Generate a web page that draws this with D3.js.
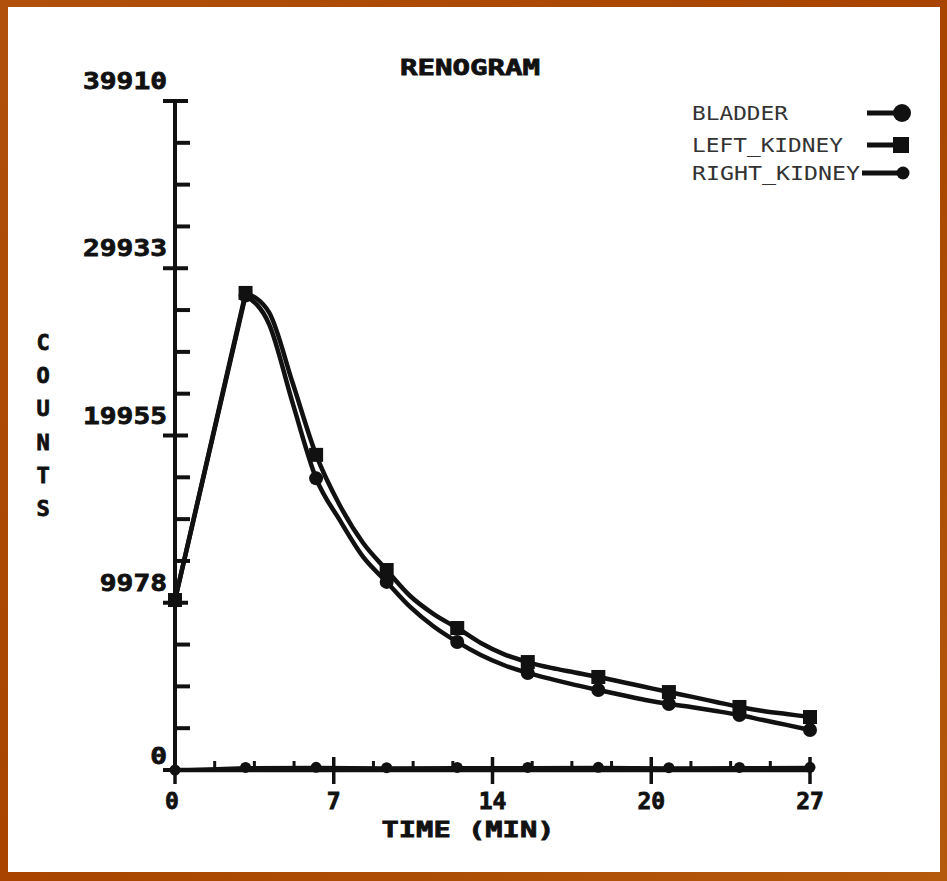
<!DOCTYPE html>
<html><head><meta charset="utf-8">
<script src="https://cdn.jsdelivr.net/npm/d3@7"></script>
<style>html,body{margin:0;padding:0;background:#a84600;}svg{display:block;}</style>
</head><body>
<svg id="chart" width="947" height="881"></svg>
<script>
// ---- data ----
const title = "RENOGRAM";
const xLabel = "TIME (MIN)";
const yLabel = "COUNTS";
const seriesNames = ["BLADDER", "LEFT_KIDNEY", "RIGHT_KIDNEY"];
const xTickValues = [0, 6.75, 13.5, 20.25, 27];
const xTickLabels = ["0", "7", "14", "20", "27"];
const yTickValues = [0, 9977.5, 19955, 29932.5, 39910];
const yTickLabels = ["0", "9978", "19955", "29933", "39910"];
const time = [0,3,4,5,6,7,8,9,10,11,12,13,14,15,16,17,18,19,20,21,22,23,24,25,26,27];
const leftKidney  = [10140,28460,27300,23100,18800,15810,13540,11930,10380,9300,8470,7580,6900,6440,6090,5820,5550,5250,4950,4650,4360,4060,3760,3520,3340,3160];
const rightKidney = [10140,28300,26600,21900,17400,14920,12710,11220,9730,8560,7640,6860,6250,5790,5420,5080,4770,4470,4180,3940,3740,3520,3280,2980,2690,2390];
const bladderTime = [0,3,6,9,12,15,18,21,24,27];
const bladder = [0,150,160,140,150,150,160,140,150,160];

// ---- drawing ----
const svg = d3.select("#chart");
const defs = svg.append("defs");
const g0 = defs.append("linearGradient").attr("id","bg").attr("x1","0").attr("y1","0").attr("x2","1").attr("y2","1");
g0.append("stop").attr("offset","0").attr("stop-color","#b0500a");
g0.append("stop").attr("offset","0.5").attr("stop-color","#a84400");
g0.append("stop").attr("offset","1").attr("stop-color","#b45a0c");
svg.append("rect").attr("width",947).attr("height",881).attr("fill","url(#bg)");
svg.append("rect").attr("x",8).attr("y",7).attr("width",932).attr("height",865).attr("fill","#fff");

const x = d3.scaleLinear().domain([0,27]).range([175,810]);
const y = d3.scaleLinear().domain([0,39910]).range([770,101]);
const ink = "#111";
const mono = "'DejaVu Sans Mono', 'Liberation Mono', monospace";

// minor ticks
const xMinor = [], yMinor = [];
for (let i=0;i<4;i++) for (let k=1;k<4;k++) {
  xMinor.push(xTickValues[i] + (xTickValues[i+1]-xTickValues[i])*k/4);
  yMinor.push(yTickValues[i] + (yTickValues[i+1]-yTickValues[i])*k/4);
}
const ax = svg.append("g").attr("stroke",ink).attr("stroke-linecap","butt");
ax.append("line").attr("x1",x(0)).attr("x2",x(0)).attr("y1",y(39910)-1).attr("y2",y(0)+3).attr("stroke-width",4);
ax.append("line").attr("x1",x(0)-2).attr("x2",x(27)+2).attr("y1",y(0)).attr("y2",y(0)).attr("stroke-width",4.5);
ax.selectAll(".ymaj").data(yTickValues).join("line")
  .attr("x1",x(0)-12).attr("x2",x(0)+13).attr("y1",d=>y(d)).attr("y2",d=>y(d)).attr("stroke-width",4);
ax.selectAll(".ymin").data(yMinor).join("line")
  .attr("x1",x(0)).attr("x2",x(0)+15).attr("y1",d=>y(d)).attr("y2",d=>y(d)).attr("stroke-width",4);
ax.selectAll(".xmaj").data(xTickValues).join("line")
  .attr("x1",d=>x(d)).attr("x2",d=>x(d)).attr("y1",y(0)-13).attr("y2",y(0)+14).attr("stroke-width",3.5);
ax.selectAll(".xmin").data(xMinor).join("line")
  .attr("x1",d=>x(d)).attr("x2",d=>x(d)).attr("y1",y(0)-9).attr("y2",y(0)).attr("stroke-width",3);

// tick labels
const lab = svg.append("g").attr("font-family",mono).attr("font-weight","bold").attr("fill",ink)
  .attr("stroke",ink).attr("stroke-width",0.8);
lab.selectAll(".yl").data(yTickValues).join("text")
  .attr("x",167).attr("y",(d,i)=> i===0 ? y(d)-6 : y(d)-12)
  .attr("text-anchor","end").attr("font-size",23)
  .attr("textLength",(d,i)=>yTickLabels[i].length*16.8).attr("lengthAdjust","spacingAndGlyphs")
  .text((d,i)=>yTickLabels[i]);
lab.selectAll(".xl").data(xTickValues).join("text")
  .attr("x",d=>x(d)-(d===0?3:0)).attr("y",y(0)+39)
  .attr("text-anchor","middle").attr("font-size",23)
  .text((d,i)=>xTickLabels[i]);

// title & axis labels
lab.append("text").attr("x",470).attr("y",75).attr("text-anchor","middle").attr("font-size",22)
  .attr("textLength",140).attr("lengthAdjust","spacingAndGlyphs").text(title);
lab.append("text").attr("x",468).attr("y",837).attr("text-anchor","middle").attr("font-size",22)
  .attr("textLength",173).attr("lengthAdjust","spacingAndGlyphs").text(xLabel);
lab.selectAll(".yc").data(yLabel.split("")).join("text")
  .attr("x",43).attr("y",(d,i)=>350+i*33.2).attr("text-anchor","middle").attr("font-size",22).text(d=>d);

// series lines: straight rise to the peak, smooth decay after it
const rise = d3.line().x(d=>x(d[0])).y(d=>y(d[1]));
const decay = d3.line().x(d=>x(d[0])).y(d=>y(d[1])).curve(d3.curveMonotoneX);
const lk = time.map((t,i)=>[t,leftKidney[i]]);
const rk = time.map((t,i)=>[t,rightKidney[i]]);
const bl = bladderTime.map((t,i)=>[t,bladder[i]]);
const sg = svg.append("g").attr("fill","none").attr("stroke",ink).attr("stroke-width",4.5)
  .attr("stroke-linejoin","round").attr("stroke-linecap","round");
sg.append("path").attr("d",rise(bl)).attr("stroke-width",3);
[rk, lk].forEach(s => {
  sg.append("path").attr("d",rise(s.slice(0,2)));
  sg.append("path").attr("d",decay(s.slice(1)));
});

const mk = svg.append("g").attr("fill",ink);
mk.selectAll(".bm").data(bl).join("circle").attr("cx",d=>x(d[0])).attr("cy",d=>y(d[1])).attr("r",5.5);
mk.selectAll(".rm").data(rk.filter(d=>d[0]%3===0)).join("circle")
  .attr("cx",d=>x(d[0])).attr("cy",d=>y(d[1])).attr("r",7);
mk.selectAll(".lm").data(lk.filter(d=>d[0]%3===0)).join("rect")
  .attr("x",d=>x(d[0])-7).attr("y",d=>y(d[1])-7).attr("width",14).attr("height",14);

// legend
const leg = svg.append("g");
const legY = [113,145,173];
leg.selectAll("text").data(seriesNames).join("text")
  .attr("x",692).attr("y",(d,i)=>legY[i]+7).attr("font-family",mono).attr("font-size",19).attr("fill","#333")
  .attr("textLength",(d,i)=>[96,151,168][i]).attr("lengthAdjust","spacingAndGlyphs").text(d=>d);
leg.selectAll("line").data(seriesNames).join("line")
  .attr("x1",(d,i)=>[867,867,862][i]).attr("x2",903).attr("y1",(d,i)=>legY[i]).attr("y2",(d,i)=>legY[i])
  .attr("stroke",ink).attr("stroke-width",5);
leg.append("circle").attr("cx",902).attr("cy",legY[0]).attr("r",9).attr("fill",ink);
leg.append("rect").attr("x",893).attr("y",legY[1]-8).attr("width",16).attr("height",16).attr("fill",ink);
leg.append("circle").attr("cx",903).attr("cy",legY[2]).attr("r",6.5).attr("fill",ink);
</script>
</body></html>
